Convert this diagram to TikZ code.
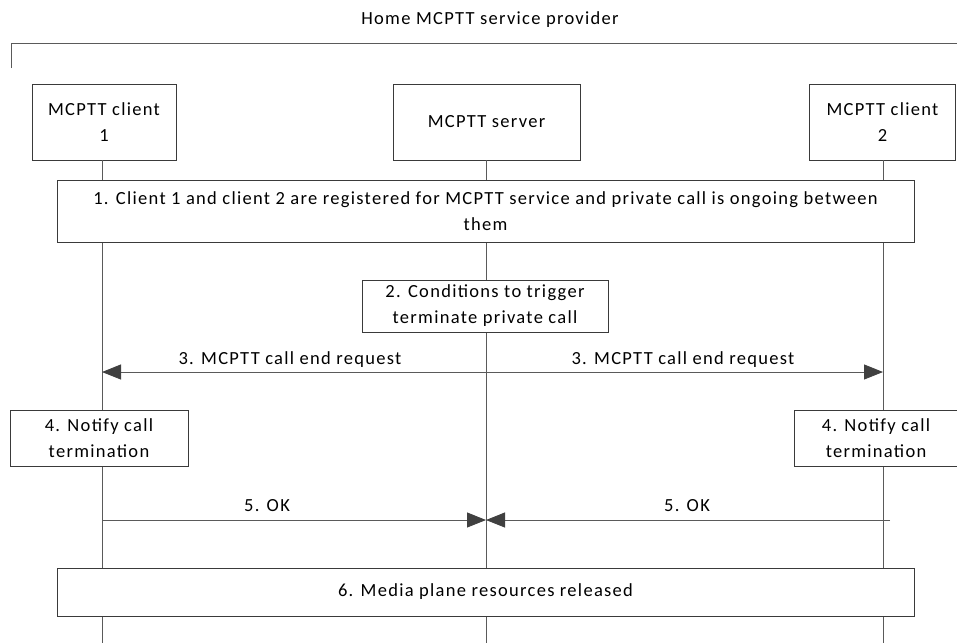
\documentclass[tikz,border=0pt]{standalone}
\usepackage{fontspec}
\setmainfont[LetterSpace=7]{Carlito}
\usetikzlibrary{arrows.meta}
\definecolor{linec}{HTML}{5A5A5A}
\definecolor{boxc}{HTML}{3A3A3A}
\definecolor{headc}{HTML}{404040}
\tikzset{
  box/.style={draw=boxc, line width=0.9pt, fill=white, align=center, inner sep=0pt, font=\fontsize{18.5}{26}\selectfont},
  life/.style={draw=linec, line width=0.9pt},
  msg/.style={draw=linec, line width=0.9pt, -{Triangle[length=19pt,width=15pt,fill=headc,color=headc]}},
  lbl/.style={font=\fontsize{18.5}{26}\selectfont, inner sep=0pt},
}
\begin{document}
\begin{tikzpicture}[x=1pt,y=-1pt]
\useasboundingbox (0,0) rectangle (957,643);
% title and bracket
\node[lbl] (title) at (490,20) {Home MCPTT service provider};
\coordinate (brA) at (11,68);
\coordinate (brB) at (11,43);
\coordinate (brC) at (957,43);
\draw[life] (brA) -- (brB) -- (brC);
% headers
\node[box, minimum width=144, minimum height=76] (c1) at (104,122) {MCPTT client\\1};
\node[box, minimum width=187, minimum height=76] (srv) at (486.5,122) {MCPTT server};
\node[box, minimum width=146, minimum height=76] (c2) at (882.5,122) {MCPTT client\\2};
% lifeline ends
\coordinate (c1e) at (102,643);
\coordinate (srve) at (486,643);
\coordinate (c2e) at (883,643);
\draw[life] (c1.south -| c1e) -- (c1e);
\draw[life] (srv.south -| srve) -- (srve);
\draw[life] (c2.south -| c2e) -- (c2e);
% step boxes
\node[box, minimum width=857, minimum height=62] (s1) at (485.5,211) {1. Client 1 and client 2 are registered for MCPTT service and private call is ongoing between\\them};
\node[box, minimum width=246, minimum height=52] (s2) at (485,306) {2. Conditions to trigger\\terminate private call};
% step 3
\coordinate (m3s) at (486,372);
\coordinate (m3l) at (102,372);
\coordinate (m3r) at (883,372);
\draw[msg] (m3s) -- (m3l);
\draw[msg] (m3s) -- (m3r);
\node[lbl] (l3a) at (290,360) {3. MCPTT call end request};
\node[lbl] (l3b) at (683,360) {3. MCPTT call end request};
% step 4
\node[box, minimum width=178, minimum height=56] (s4a) at (99,438) {4. Notify call\\termination};
\node[box, minimum width=164, minimum height=56] (s4b) at (876,438) {4. Notify call\\termination};
% step 5
\coordinate (m5l) at (102,520);
\coordinate (m5r) at (890,520);
\coordinate (m5s) at (486,520);
\draw[msg] (m5l) -- (m5s);
\draw[msg] (m5r) -- (m5s);
\node[lbl] (l5a) at (267,506) {5. OK};
\node[lbl] (l5b) at (687,506) {5. OK};
% step 6
\node[box, minimum width=857, minimum height=48] (s6) at (485.5,592) {6. Media plane resources released};
\end{tikzpicture}
\end{document}
